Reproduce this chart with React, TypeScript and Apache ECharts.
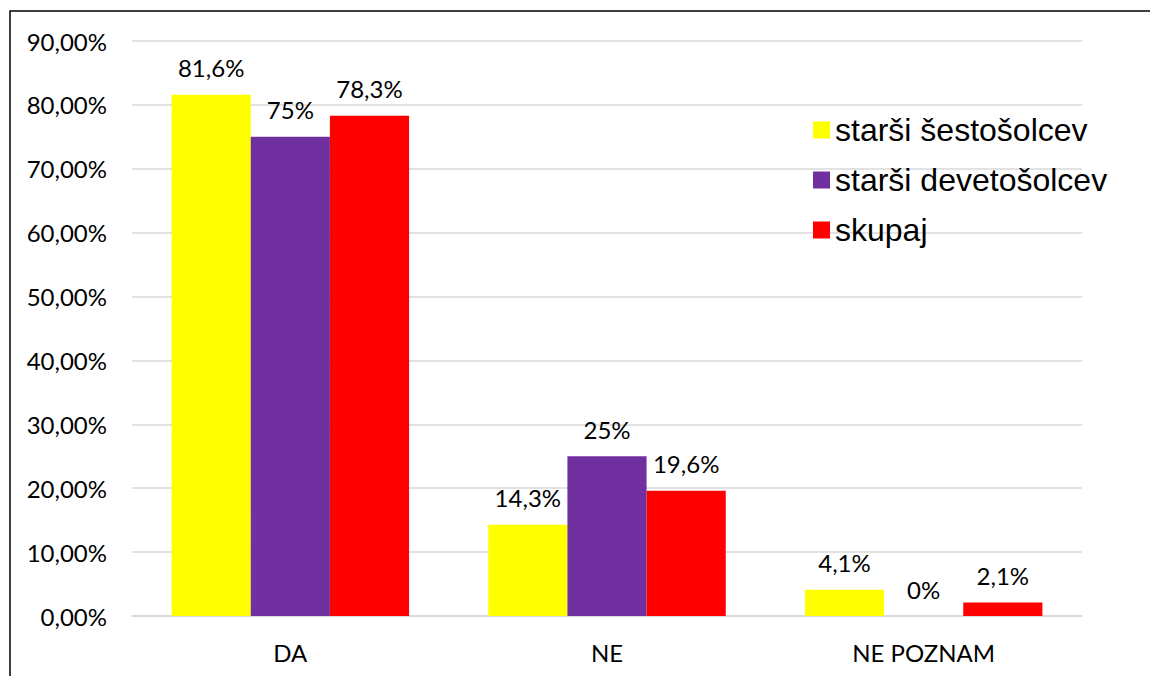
import React, { useEffect, useRef } from "react";
import * as echarts from "echarts";

const categories = ["DA", "NE", "NE POZNAM"];
const seriesNames = ["starši šestošolcev", "starši devetošolcev", "skupaj"];
const sestosolci = [81.6, 14.3, 4.1];
const devetosolci = [75, 25, 0];
const skupaj = [78.3, 19.6, 2.1];
const colors = ["#FFFF00", "#7030A0", "#FF0000"];

const fmt = (v: number) => String(v).replace(".", ",") + "%";

export default function App() {
  const ref = useRef<HTMLDivElement>(null);
  useEffect(() => {
    const chart = echarts.init(ref.current!, undefined, { renderer: "svg" });
    const labelFont = "Lato, 'Open Sans', sans-serif";
    const fs = 24;
    const mk = (name: string, data: number[], color: string) => ({
      name,
      type: "bar",
      data,
      itemStyle: { color },
      barGap: "0%",
      barCategoryGap: "25%",
      label: {
        show: true,
        position: "top",
        distance: 15,
        color: "#000",
        fontSize: fs,
        fontFamily: labelFont,
        formatter: (p: any) => fmt(p.value),
      },
    });
    chart.setOption({
      animation: false,
      backgroundColor: "#fff",
      grid: { left: 132, right: 68, top: 41, bottom: 60, containLabel: false },
      legend: {
        orient: "vertical",
        left: 808,
        top: 109,
        itemWidth: 17,
        itemHeight: 17,
        itemGap: 18,
        icon: "rect",
        textStyle: {
          fontSize: 32,
          fontFamily: "'Liberation Sans', Arial, sans-serif",
          color: "#000",
        },
        data: seriesNames,
      },
      xAxis: {
        type: "category",
        data: categories,
        axisLine: { lineStyle: { color: "#d9d9d9", width: 1.5 } },
        axisTick: { show: false },
        axisLabel: { color: "#000", fontSize: fs, fontFamily: labelFont, margin: 24 },
      },
      yAxis: {
        type: "value",
        min: 0,
        max: 90,
        interval: 10,
        axisLine: { show: false },
        axisTick: { show: false },
        splitLine: { lineStyle: { color: "#d9d9d9", width: 1.5 } },
        axisLabel: {
          color: "#000",
          fontSize: fs,
          fontFamily: labelFont,
          margin: 25,
          formatter: (v: number) => v.toFixed(2).replace(".", ",") + "%",
        },
      },
      graphic: [
        {
          type: "rect",
          shape: { x: 10, y: 11, width: 1200, height: 700 },
          style: { fill: "none", stroke: "#000", lineWidth: 1.5 },
          silent: true,
          z: 100,
        },
      ],
      series: [
        mk(seriesNames[0], sestosolci, colors[0]),
        mk(seriesNames[1], devetosolci, colors[1]),
        mk(seriesNames[2], skupaj, colors[2]),
      ],
    });
    return () => chart.dispose();
  }, []);
  return (
    <div
      ref={ref}
      style={{ position: "fixed", left: 0, top: 0, width: 1150, height: 676 }}
    />
  );
}
